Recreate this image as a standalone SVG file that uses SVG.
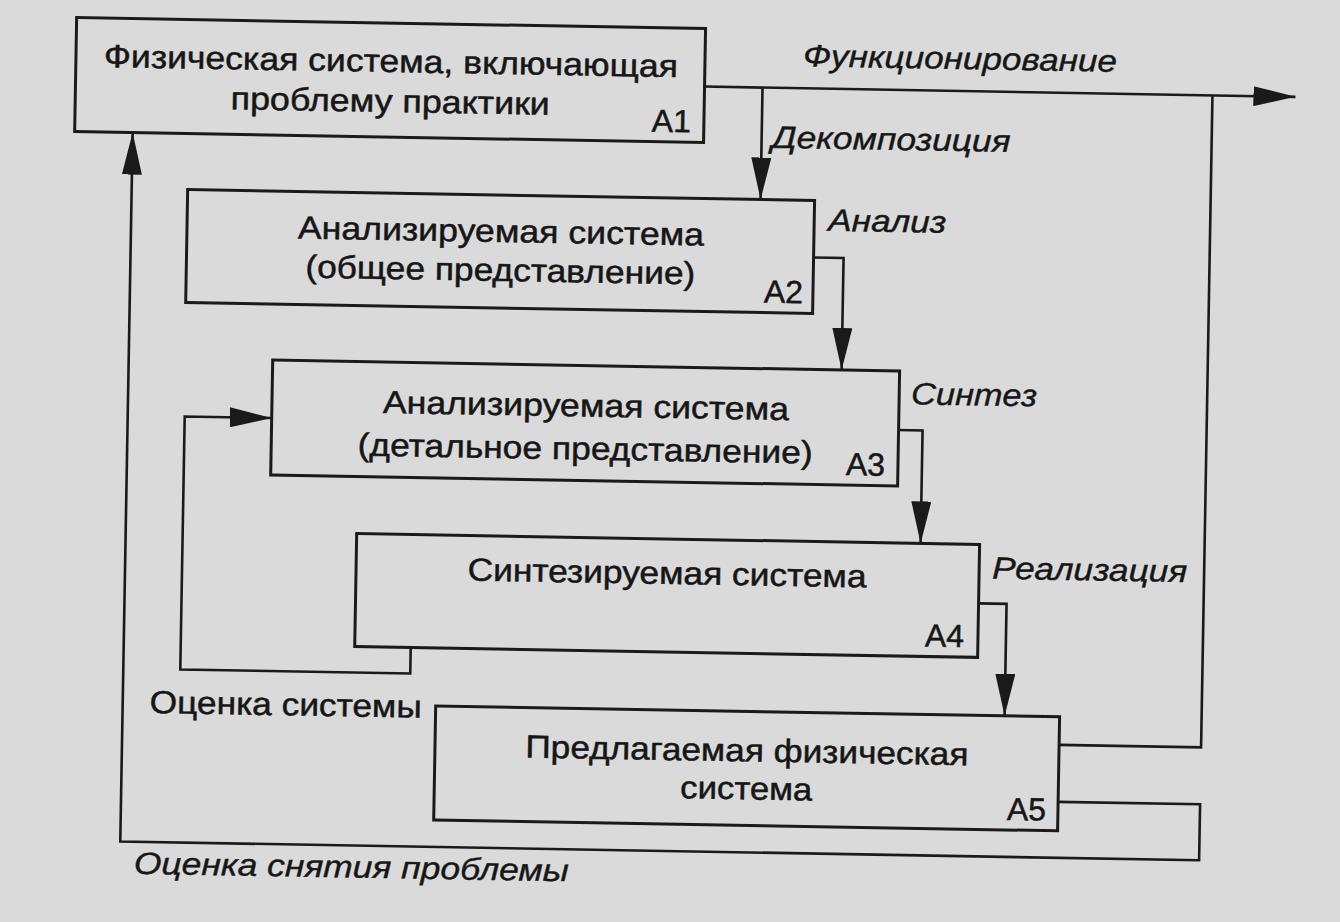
<svg xmlns="http://www.w3.org/2000/svg" width="1340" height="922" viewBox="0 0 1340 922">
  <style>
    .box { fill: none; stroke: #1a1a1a; stroke-width: 3; }
    .t { font-family: "Liberation Sans", Arial, sans-serif; font-size: 32px; fill: #161616; stroke: #161616; stroke-width: 0.5; }
    .c { text-anchor: middle; }
    .id { text-anchor: end; }
    .lbl { font-family: "Liberation Sans", Arial, sans-serif; font-size: 31px; font-style: italic; fill: #161616; stroke: #161616; stroke-width: 0.4; }
    .lblr { font-family: "Liberation Sans", Arial, sans-serif; font-size: 32px; fill: #161616; stroke: #161616; stroke-width: 0.5; }
    .con { fill: none; stroke: #1a1a1a; stroke-width: 2.6; marker-end: url(#ah); }
    .con0 { fill: none; stroke: #1a1a1a; stroke-width: 2.6; }
  </style>
  <defs>
    <marker id="ah" markerUnits="userSpaceOnUse" markerWidth="42" markerHeight="20" refX="42" refY="10" orient="auto">
      <path d="M0,0 L42,10 L0,20 Z" fill="#1a1a1a"/>
    </marker>
  </defs>
  <rect x="0" y="0" width="1340" height="922" fill="#dadada"/>
  <g transform="rotate(1 670 461)">
    <g id="connectors">
      <path class="con" d="M698,86 H1289"/>
      <path class="con" d="M756,86 V198"/>
      <path class="con0" d="M1064,738 H1206 V86"/>
      <path class="con" d="M810,255 H840 V367"/>
      <path class="con" d="M898,426 H922 V539"/>
      <path class="con" d="M981,598 H1009 V710"/>
      <path class="con" d="M414,652 V678 H184 V425 H271"/>
      <path class="con" d="M1064,795 H1206 V851 H127 V142"/>
    </g>
    <g id="labels">
      <text class="lbl" x="796" y="64" textLength="314" lengthAdjust="spacingAndGlyphs">Функционирование</text>
      <text class="lbl" x="766" y="146" textLength="239" lengthAdjust="spacingAndGlyphs">Декомпозиция</text>
      <text class="lbl" x="824" y="228" textLength="118" lengthAdjust="spacingAndGlyphs">Анализ</text>
      <text class="lbl" x="910" y="400" textLength="126" lengthAdjust="spacingAndGlyphs">Синтез</text>
      <text class="lbl" x="994" y="573" textLength="195" lengthAdjust="spacingAndGlyphs">Реализация</text>
      <text class="lblr" x="154" y="722" textLength="272" lengthAdjust="spacingAndGlyphs">Оценка системы</text>
      <text class="lbl" x="141" y="883" textLength="435" lengthAdjust="spacingAndGlyphs">Оценка снятия проблемы</text>
    </g>
    <g id="A1">
      <rect class="box" x="69" y="28" width="629" height="114"/>
      <text class="t c" x="384" y="77" textLength="574" lengthAdjust="spacingAndGlyphs">Физическая система, включающая</text>
      <text class="t c" x="384" y="117" textLength="319" lengthAdjust="spacingAndGlyphs">проблему практики</text>
      <text class="t id" x="685" y="132">A1</text>
    </g>
    <g id="A2">
      <rect class="box" x="183" y="198" width="627" height="113"/>
      <text class="t c" x="497" y="245" textLength="406" lengthAdjust="spacingAndGlyphs">Анализируемая система</text>
      <text class="t c" x="497" y="284" textLength="390" lengthAdjust="spacingAndGlyphs">(общее представление)</text>
      <text class="t id" x="800" y="301">A2</text>
    </g>
    <g id="A3">
      <rect class="box" x="271" y="367" width="627" height="115"/>
      <text class="t c" x="585" y="418" textLength="406" lengthAdjust="spacingAndGlyphs">Анализируемая система</text>
      <text class="t c" x="585" y="461" textLength="455" lengthAdjust="spacingAndGlyphs">(детальное представление)</text>
      <text class="t id" x="885" y="472">A3</text>
    </g>
    <g id="A4">
      <rect class="box" x="358" y="539" width="623" height="113"/>
      <text class="t c" x="669" y="584" textLength="399" lengthAdjust="spacingAndGlyphs">Синтезируемая система</text>
      <text class="t id" x="967" y="642">A4</text>
    </g>
    <g id="A5">
      <rect class="box" x="440" y="710" width="624" height="114"/>
      <text class="t c" x="752" y="760" textLength="443" lengthAdjust="spacingAndGlyphs">Предлагаемая физическая</text>
      <text class="t c" x="752" y="798" textLength="132" lengthAdjust="spacingAndGlyphs">система</text>
      <text class="t id" x="1052" y="814">A5</text>
    </g>
  </g>
</svg>
